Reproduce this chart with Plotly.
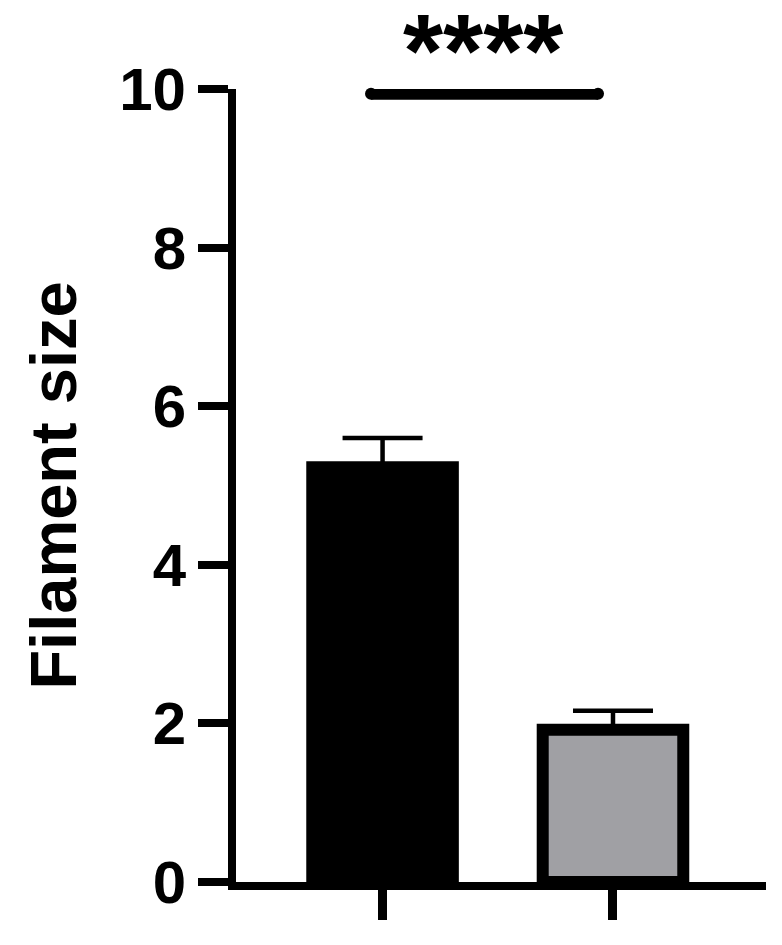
import plotly.graph_objects as go

# ── data ──────────────────────────────────────────────────────────────────────
groups = ["Group 1", "Group 2"]
filament_mean = [5.23, 1.92]
filament_sem = [0.37, 0.24]
bar_colors = ["#000000", "#A0A0A4"]
y_ticks = [0, 2, 4, 6, 8, 10]
sig_label = "****"
sig_y = 9.94

x_pos = list(range(len(groups)))
FONT = "Liberation Sans, Arial, Helvetica, sans-serif"

fig = go.Figure()

fig.add_trace(
    go.Bar(
        x=x_pos,
        y=filament_mean,
        width=0.61,
        marker=dict(color=bar_colors, line=dict(color="black", width=12)),
        error_y=dict(
            type="data",
            array=filament_sem,
            arrayminus=[0] * len(filament_sem),
            symmetric=False,
            color="black",
            thickness=4.5,
            width=40,
        ),
        hovertext=groups,
        showlegend=False,
    )
)

# significance bar (round ends via markers)
fig.add_trace(
    go.Scatter(
        x=[x_pos[0] - 0.05, x_pos[1] - 0.065],
        y=[sig_y, sig_y],
        mode="lines+markers",
        line=dict(color="black", width=12),
        marker=dict(color="black", size=12),
        cliponaxis=False,
        showlegend=False,
        hoverinfo="skip",
    )
)

fig.add_annotation(
    x=(x_pos[0] + x_pos[1]) / 2 - 0.064,
    y=sig_y,
    yshift=42,
    text=sig_label,
    showarrow=False,
    yanchor="middle",
    font=dict(family=FONT, size=103, color="black", weight="bold"),
)

# page body adds an 8px offset, margins account for it
fig.update_layout(
    width=782,
    height=945,
    margin=dict(l=228, r=24, t=81, b=71, autoexpand=False),
    plot_bgcolor="white",
    paper_bgcolor="white",
    font=dict(family=FONT, color="black"),
)

fig.update_xaxes(
    range=[-0.636, 1.664],
    tickvals=x_pos,
    showticklabels=False,
    ticks="outside",
    ticklen=30,
    tickwidth=9,
    tickcolor="black",
    showline=True,
    linecolor="black",
    linewidth=8,
    showgrid=False,
    zeroline=False,
    automargin=False,
)

fig.update_yaxes(
    range=[0, 10],
    tickvals=y_ticks,
    ticks="outside",
    ticklen=30,
    tickwidth=8,
    tickcolor="black",
    tickfont=dict(family=FONT, size=60, color="black", weight="bold"),
    showline=True,
    linecolor="black",
    linewidth=8,
    showgrid=False,
    zeroline=False,
    automargin=False,
    title=dict(
        text="Filament size",
        font=dict(family=FONT, size=65, color="black", weight="bold"),
        standoff=25,
    ),
)

fig.write_html("out.html")
